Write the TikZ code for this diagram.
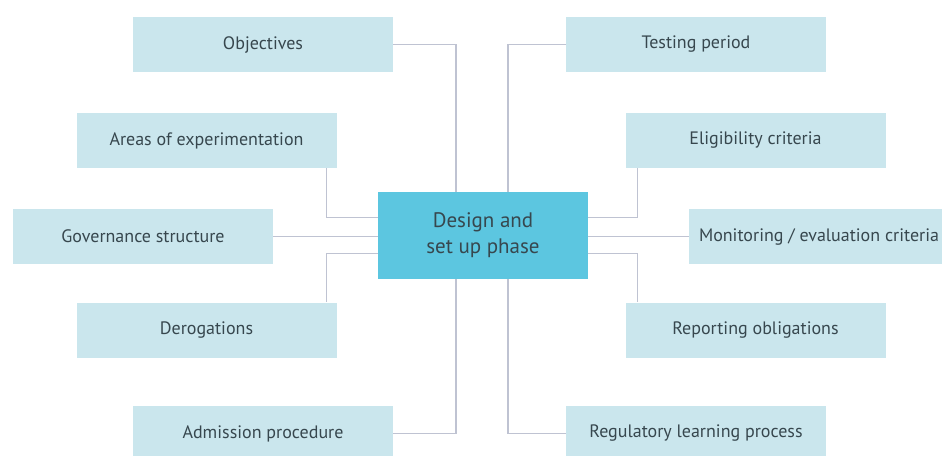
\documentclass[tikz,border=0pt]{standalone}
\usepackage{fontspec}
\setmainfont{PT Sans}
\usepackage{xcolor}
\definecolor{boxfill}{HTML}{CAE6ED}
\definecolor{mainfill}{HTML}{5CC6E0}
\definecolor{linkgray}{HTML}{BFC3D2}
\definecolor{textgray}{HTML}{37474E}

\begin{document}
\begin{tikzpicture}[x=1pt, y=-1pt,
        item/.style={rectangle, fill=boxfill, minimum width=260pt, minimum height=55pt, text=textgray, font=\fontsize{18}{21}\selectfont, inner sep=0pt},
        mainbox/.style={rectangle, fill=mainfill, minimum width=210pt, minimum height=87pt, text=textgray, align=center, font=\fontsize{21}{26}\selectfont},
        link/.style={draw=linkgray, line width=1.3pt}]
        \useasboundingbox (0, 0) rectangle (942, 455);

        \node[mainbox] (ctr) at (483, 235.5) {Design and\\set up phase};

        \node[item] (obj) at (263, 44.5) {Objectives};
        \node[item] (areas) at (206.5, 140.5) {Areas of experimentation};
        \node[item] (gov) at (143, 236.5) {Governance structure};
        \node[item] (derog) at (206.5, 330) {Derogations};
        \node[item] (adm) at (263, 433.5) {Admission procedure};

        \node[item] (test) at (696, 44.5) {Testing period};
        \node[item] (elig) at (755.5, 140.5) {Eligibility criteria};
        \node[item] (monit) at (819, 236.5) {Monitoring / evaluation criteria};
        \node[item] (report) at (755.5, 330) {Reporting obligations};
        \node[item] (regul) at (696, 433.5) {Regulatory learning process};

        \path[link]
            (obj.east) -| ([xshift=-27pt]ctr.north)
            ([xshift=-10pt]areas.south east) |- ([yshift=18pt]ctr.west)
            (gov.east) -- (gov.east -| ctr.west)
            ([yshift=-18pt]ctr.west) -| ([xshift=-10pt]derog.north east)
            (adm.east) -| ([xshift=-27pt]ctr.south)
            (test.west) -| ([xshift=25pt]ctr.north)
            ([xshift=12pt]elig.south west) |- ([yshift=18pt]ctr.east)
            (monit.west) -- (monit.west -| ctr.east)
            ([yshift=-18pt]ctr.east) -| ([xshift=12pt]report.north west)
            (regul.west) -| ([xshift=25pt]ctr.south);

\end{tikzpicture}
\end{document}
